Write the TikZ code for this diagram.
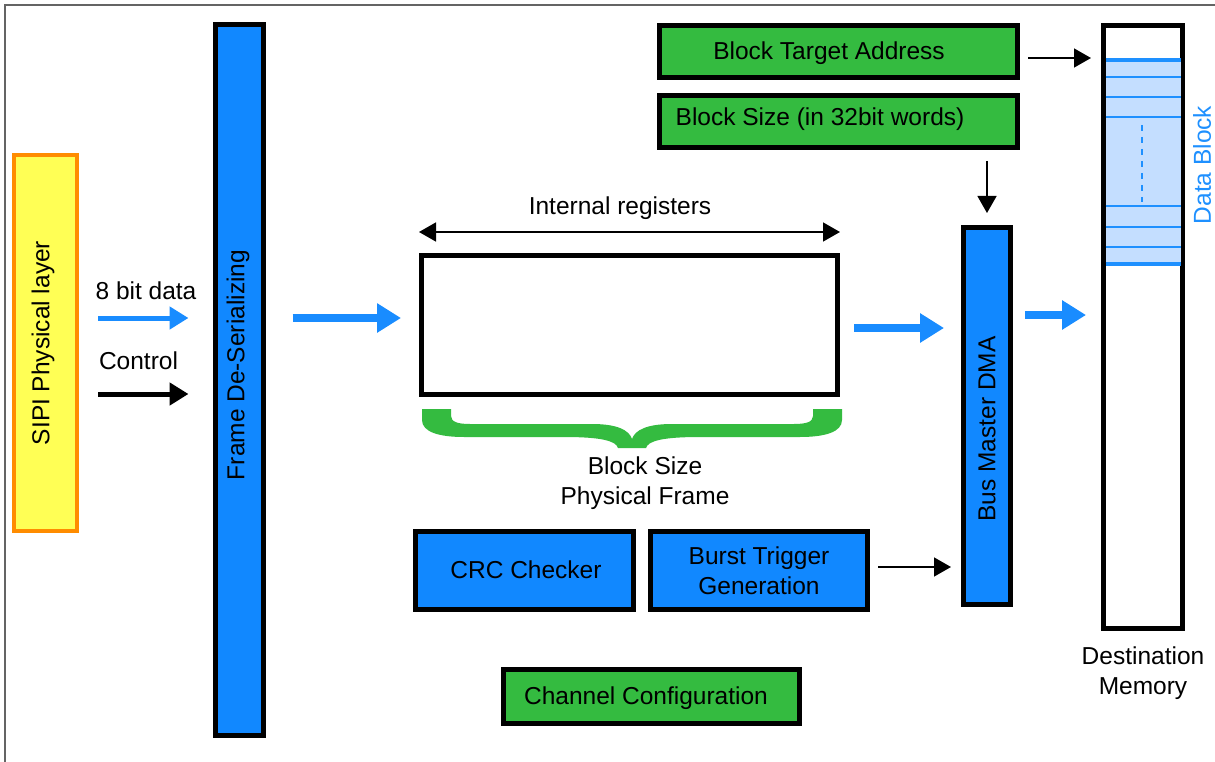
\documentclass[tikz,border=0pt]{standalone}
\usepackage{fontspec}
\setmainfont{Liberation Sans}
\usetikzlibrary{arrows.meta}
\definecolor{barblue}{RGB}{17,136,255}
\definecolor{arrblue}{RGB}{25,140,255}
\definecolor{boxgreen}{RGB}{52,187,64}
\definecolor{lightfill}{RGB}{196,222,255}
\definecolor{lineblue}{RGB}{30,144,255}
\definecolor{orangec}{RGB}{255,140,0}
\definecolor{yellowc}{RGB}{255,255,85}
\definecolor{framegray}{RGB}{100,100,100}
\begin{document}
\begin{tikzpicture}[x=1pt,y=-1pt,
  font=\fontsize{24.5}{30}\selectfont,
  box/.style={draw=black, line width=5pt, inner sep=0pt, outer sep=2.5pt},
  bluebox/.style={box, fill=barblue},
  greenbox/.style={box, fill=boxgreen},
  thinarrow/.style={draw=black, line width=1.5pt, -{Triangle[length=17pt,width=19pt]}},
  thinboth/.style={draw=black, line width=1.5pt, {Triangle[length=17pt,width=19pt]}-{Triangle[length=17pt,width=19pt]}},
  bigarrow/.style={draw=arrblue, line width=8pt, -{Triangle[length=24pt,width=28pt]}},
  smallarrow/.style={line width=5pt, -{Triangle[length=19pt,width=22pt]}},
  dbline/.style={draw=lineblue, line width=1.2pt},
  dbthick/.style={draw=lineblue, line width=4pt}
]
\useasboundingbox (0,0) rectangle (1215,762);
\fill[white] (0,0) rectangle (1215,762);
\draw[framegray, line width=1.7pt] (5,762) -- (5,5) -- (1215,5);

% left part
\node[draw=orangec, fill=yellowc, line width=4pt, inner sep=0pt, outer sep=2pt,
      minimum width=63pt, minimum height=376pt] (sipi) at (45.5,343) {};
\node[rotate=90] (sipitxt) at (43,343) {SIPI Physical layer};

\node[bluebox, minimum width=48pt, minimum height=711pt] (frame) at (239,380) {};
\node[rotate=90] (frametxt) at (238,365) {Frame De-Serializing};

\node (lbl8) at (146,291) {8 bit data};
\node (lblctl) at (138.5,361) {Control};

\draw[smallarrow, draw=arrblue, shorten <=19pt, shorten >=24pt]
  ([yshift=25pt]sipi.east) -- ([yshift=25pt]sipi.east -| frame.west);
\draw[smallarrow, draw=black, shorten <=19pt, shorten >=24pt]
  ([yshift=-51pt]sipi.east) -- ([yshift=-51pt]sipi.east -| frame.west);

% internal registers
\node[box, fill=white, minimum width=416pt, minimum height=139pt] (reg) at (629.5,325) {};
\node (lblint) at (620,208) {Internal registers};
\draw[thinboth] ([yshift=21pt]reg.north west) -- ([yshift=21pt]reg.north east);

\draw[bigarrow, shorten <=27pt, shorten >=18pt]
  ([yshift=62pt]frame.east) -- ([yshift=62pt]frame.east -| reg.west);

% brace
\fill[boxgreen] (422,409) -- (451,409) -- (451,416)
  .. controls (451,422) and (458,424) .. (470,424) -- (592,424)
  .. controls (617,424) and (629,430) .. (632,439)
  .. controls (635,430) and (647,424) .. (672,424) -- (794,424)
  .. controls (806,424) and (813,422) .. (813,416) -- (813,409) -- (842,409) -- (842,420)
  .. controls (842,432) and (825,437) .. (800,437) -- (700,437)
  .. controls (662,437) and (648,441) .. (646,448) -- (618,448)
  .. controls (616,441) and (602,437) .. (564,437) -- (464,437)
  .. controls (439,437) and (422,432) .. (422,420) -- cycle;
\node[align=center] (lblbs) at (645,483) {Block Size\\Physical Frame};

% top right green boxes
\node[greenbox, minimum width=358pt, minimum height=52pt] (bta) at (838.5,51.5) {};
\node (btatxt) at (829,53) {Block Target Address};
\node[greenbox, minimum width=358pt, minimum height=52pt] (bsize) at (838.5,121.5) {};
\node (bsizetxt) at (820,119) {Block Size (in 32bit words)};

% bus master DMA
\node[bluebox, minimum width=47pt, minimum height=377pt] (dma) at (987,416) {};
\node[rotate=90] (dmatxt) at (987,429) {Bus Master DMA};

\draw[bigarrow, shorten <=14pt, shorten >=17pt]
  ([yshift=-3pt]reg.east) -- ([yshift=-3pt]reg.east -| dma.west);

% lower boxes
\node[bluebox, minimum width=218pt, minimum height=78pt] (crc) at (524.5,570.5) {};
\node (crctxt) at (526,570) {CRC Checker};
\node[bluebox, minimum width=217pt, minimum height=78pt, align=center] (burst) at (759,570.5)
  {Burst Trigger\\Generation};
\node[greenbox, minimum width=296pt, minimum height=54pt] (chan) at (651.5,696.5) {};
\node (chantxt) at (646,698) {Channel Configuration};

\draw[thinarrow, shorten <=8pt, shorten >=10pt]
  ([yshift=3.5pt]burst.east) -- ([yshift=3.5pt]burst.east -| dma.west);
\draw[thinarrow, shorten <=11pt, shorten >=12pt]
  (bsize.south -| dma.north) -- (dma.north);

% destination memory
\node[box, fill=white, minimum width=79pt, minimum height=603pt] (mem) at (1143,327) {};
\fill[lightfill] (1105.5,58) rectangle (1180.5,266);
\foreach \yy in {77,97,117,206,227,247} {
  \draw[dbline] (1105.5,\yy) -- (1180.5,\yy);
}
\draw[dbthick] (1105.5,60) -- (1180.5,60);
\draw[dbthick] (1105.5,264) -- (1180.5,264);
\draw[draw=lineblue, line width=1.5pt, dash pattern=on 6pt off 6pt] (1142,125) -- (1142,202);
\node[rotate=90, text=lineblue] (dbtxt) at (1202,165) {Data Block};
\node[align=center] (lbldm) at (1143,673) {Destination\\Memory};

\draw[thinarrow, shorten <=8pt, shorten >=10pt]
  ([yshift=-6.5pt]bta.east) -- ([yshift=-6.5pt]bta.east -| mem.west);
\draw[bigarrow, shorten <=12pt, shorten >=15pt]
  ([yshift=101pt]dma.east) -- ([yshift=101pt]dma.east -| mem.west);
\end{tikzpicture}
\end{document}
